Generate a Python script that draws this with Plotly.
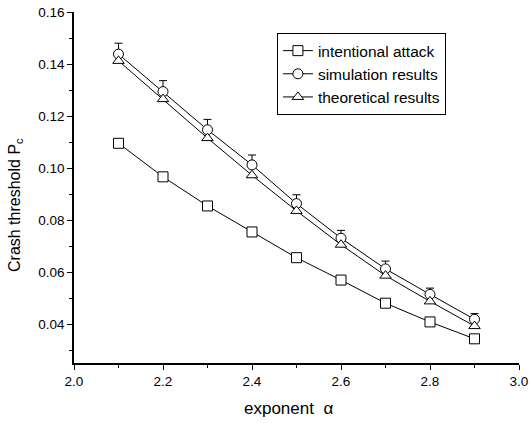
import plotly.graph_objects as go

alpha = [2.1, 2.2, 2.3, 2.4, 2.5, 2.6, 2.7, 2.8, 2.9]
intentional = [0.1095, 0.0966, 0.0854, 0.0754, 0.0655, 0.0569, 0.0480, 0.0408, 0.0343]
simulation = [0.1438, 0.1294, 0.1147, 0.1012, 0.0863, 0.0730, 0.0612, 0.0514, 0.0418]
sim_err = [0.0042, 0.0042, 0.0040, 0.0038, 0.0034, 0.0030, 0.0030, 0.0024, 0.0022]
theoretical = [0.1412, 0.1265, 0.1115, 0.0972, 0.0835, 0.0705, 0.0586, 0.0487, 0.0392]

font = "Liberation Sans, Arial, sans-serif"
fig = go.Figure()
mk = dict(color="white", size=10, line=dict(color="black", width=1))
fig.add_trace(go.Scatter(x=alpha, y=intentional, mode="lines+markers", name="intentional attack",
                         line=dict(color="black", width=1), marker=dict(symbol="square", **mk)))
fig.add_trace(go.Scatter(x=alpha, y=simulation, mode="lines+markers", name="simulation results",
                         line=dict(color="black", width=1), marker=dict(symbol="circle", **mk),
                         error_y=dict(type="data", array=sim_err, arrayminus=[0]*len(sim_err), symmetric=False,
                                      color="black", thickness=1, width=4)))
fig.add_trace(go.Scatter(x=alpha, y=theoretical, mode="lines+markers", name="theoretical results",
                         line=dict(color="black", width=1), marker=dict(symbol="triangle-up", **mk)))

fig.update_layout(
    width=530, height=423,
    margin=dict(l=74, r=11, t=12, b=60),
    plot_bgcolor="white", paper_bgcolor="white",
    font=dict(family=font, color="black", size=13),
    legend=dict(x=0.456, y=0.94, xanchor="left", yanchor="top", bordercolor="black", borderwidth=1,
                bgcolor="white", font=dict(size=15.5), tracegroupgap=0, itemwidth=30),
    xaxis=dict(range=[2.0, 3.0], tick0=2.0, dtick=0.2, tickformat=".1f", showline=True, linecolor="black",
               linewidth=1.5, ticks="outside", ticklen=5, tickwidth=1, tickcolor="black", showgrid=False,
               zeroline=False, tickfont=dict(size=13.5), automargin=False,
               minor=dict(ticks="outside", ticklen=3, dtick=0.1, tickcolor="black", showgrid=False)),
    yaxis=dict(range=[0.025, 0.16], tick0=0.04, dtick=0.02, tickformat=".2f", showline=True, linecolor="black",
               linewidth=1.5, ticks="outside", ticklen=5, tickwidth=1, tickcolor="black", showgrid=False,
               zeroline=False, tickfont=dict(size=13.5), automargin=False,
               minor=dict(ticks="outside", ticklen=3, dtick=0.01, tickcolor="black", showgrid=False)),
    annotations=[
        dict(text="exponent\u00a0\u00a0α", xref="paper", yref="paper", x=(288 - 74) / 445, y=-(408 - 363) / 351,
             xanchor="center", yanchor="middle", showarrow=False, font=dict(size=17)),
        dict(text="Crash threshold P<sub>c</sub>", xref="paper", yref="paper", x=(15 - 74) / 445,
             y=(363 - 205) / 351, xanchor="center", yanchor="middle", textangle=-90, showarrow=False,
             font=dict(size=16)),
    ],
)
fig.write_html("out.html")
